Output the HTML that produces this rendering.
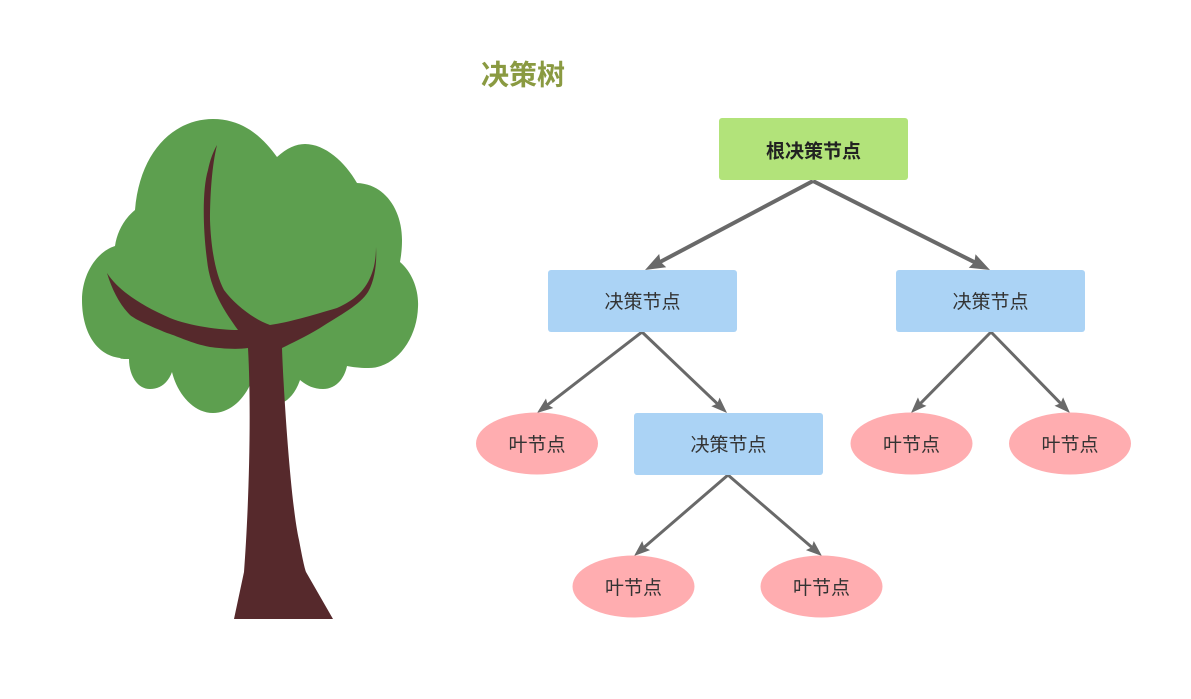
<!DOCTYPE html>
<html>
<head>
<meta charset="utf-8">
<style>
html,body{margin:0;padding:0;background:#ffffff;}
body{width:1191px;height:699px;overflow:hidden;}
svg{display:block;}
text{font-family:"Liberation Sans","Noto Sans CJK SC","WenQuanYi Zen Hei",sans-serif;}
</style>
</head>
<body>
<svg width="1191" height="699" viewBox="0 0 1191 699" xmlns="http://www.w3.org/2000/svg">
  <defs>
    <marker id="big" markerUnits="userSpaceOnUse" viewBox="-10 -10 26 20" markerWidth="26" markerHeight="20" refX="0" refY="0" orient="auto">
      <path d="M14,0 L-6,-7.5 L-3.5,0 L-6,7.5 Z" fill="#696969"/>
    </marker>
    <marker id="sm" markerUnits="userSpaceOnUse" viewBox="-10 -10 22 20" markerWidth="22" markerHeight="20" refX="0" refY="0" orient="auto">
      <path d="M10,0 L-6,-6 L-3.5,0 L-6,6 Z" fill="#696969"/>
    </marker>
  </defs>

  <!-- Tree canopy -->
  <path fill="#5d9f4f" d="M135,210
    C140,150 175,119 213,119
    C245,119 265,140 277,157
    C287,148 296,144 305,144
    C325,144 345,162 357,183
    C385,184 402,210 402,240
    C402,250 401,256 400,262
    C412,272 419,290 418,307
    C417,340 395,369 367,368
    C360,368 352,367 347,366
    C344,380 335,389 323,389
    C313,389 306,385 300,380
    C296,392 289,400 282,403
    L250,385
    C242,402 228,413 213,413
    C193,413 177,393 172,372
    C168,383 160,389 150,389
    C137,389 129,375 129,359
    C122,359 121,359 120,358
    C95,355 82,330 82,300
    C82,275 96,252 115,246
    C117,232 124,219 135,210 Z"/>

  <!-- Trunk and branches -->
  <path fill="#56292c" d="M107,273
    C118,290 140,305 170,318
    C190,326 220,330 238,330
    C225,312 210,290 207,260
    C203,230 202,190 208,170
    C210,160 213,152 217,145
    C212,165 210,195 210,220
    C211,250 216,275 224,290
    C235,305 255,320 270,325
    C290,322 310,316 337,308
    C355,300 366,290 372,273
    C375,265 376,255 376,247
    C377,262 375,280 368,292
    C360,305 340,315 320,328
    C305,337 292,343 282,348
    C283,380 290,500 299,540
    C302,556 304,566 306,572
    L333,619 L234,619 L244,572
    C248,520 252,420 248,348
    C235,350 218,348 210,347
    C190,343 180,337 167,333
    C150,326 136,320 130,315
    C120,305 112,290 107,273 Z"/>

  <!-- Title -->
  <text x="481" y="75" font-size="28" font-weight="bold" fill="#8a9a41" dominant-baseline="central">决策树</text>

  <!-- Connectors -->
  <g stroke="#696969" fill="none" stroke-linecap="butt">
    <line x1="813" y1="181" x2="657.4" y2="263.4" stroke-width="4" marker-end="url(#big)"/>
    <line x1="813" y1="181" x2="977.5" y2="263.7" stroke-width="4" marker-end="url(#big)"/>

    <line x1="642" y1="332" x2="544.9" y2="406.9" stroke-width="3" marker-end="url(#sm)"/>
    <line x1="642" y1="332" x2="719.8" y2="406.1" stroke-width="3" marker-end="url(#sm)"/>

    <line x1="991" y1="332" x2="918" y2="405.9" stroke-width="3" marker-end="url(#sm)"/>
    <line x1="991" y1="332" x2="1063" y2="405.8" stroke-width="3" marker-end="url(#sm)"/>

    <line x1="728" y1="475" x2="641.6" y2="549.5" stroke-width="3" marker-end="url(#sm)"/>
    <line x1="728" y1="475" x2="814.4" y2="549.5" stroke-width="3" marker-end="url(#sm)"/>
  </g>

  <!-- Root node -->
  <rect x="719" y="118" width="189" height="62" rx="3" fill="#b2e37a"/>
  <text x="813.5" y="152" font-size="19" font-weight="bold" fill="#222" text-anchor="middle" dominant-baseline="central">根决策节点</text>

  <!-- Decision nodes -->
  <rect x="548" y="270" width="189" height="62" rx="3" fill="#abd3f5"/>
  <text x="642.5" y="302.5" font-size="19" fill="#333" text-anchor="middle" dominant-baseline="central">决策节点</text>

  <rect x="896" y="270" width="189" height="62" rx="3" fill="#abd3f5"/>
  <text x="990.5" y="302.5" font-size="19" fill="#333" text-anchor="middle" dominant-baseline="central">决策节点</text>

  <rect x="634" y="413" width="189" height="62" rx="3" fill="#abd3f5"/>
  <text x="728.5" y="445.5" font-size="19" fill="#333" text-anchor="middle" dominant-baseline="central">决策节点</text>

  <!-- Leaf nodes -->
  <ellipse cx="537" cy="443.5" rx="61" ry="31" fill="#ffadb0"/>
  <text x="537" y="445.5" font-size="19" fill="#333" text-anchor="middle" dominant-baseline="central">叶节点</text>

  <ellipse cx="911.5" cy="443.5" rx="61" ry="31" fill="#ffadb0"/>
  <text x="911.5" y="445.5" font-size="19" fill="#333" text-anchor="middle" dominant-baseline="central">叶节点</text>

  <ellipse cx="1070" cy="443.5" rx="61" ry="31" fill="#ffadb0"/>
  <text x="1070" y="445.5" font-size="19" fill="#333" text-anchor="middle" dominant-baseline="central">叶节点</text>

  <ellipse cx="633.5" cy="586.5" rx="61" ry="31" fill="#ffadb0"/>
  <text x="633.5" y="588.5" font-size="19" fill="#333" text-anchor="middle" dominant-baseline="central">叶节点</text>

  <ellipse cx="821.5" cy="586.5" rx="61" ry="31" fill="#ffadb0"/>
  <text x="821.5" y="588.5" font-size="19" fill="#333" text-anchor="middle" dominant-baseline="central">叶节点</text>
</svg>
</body>
</html>
